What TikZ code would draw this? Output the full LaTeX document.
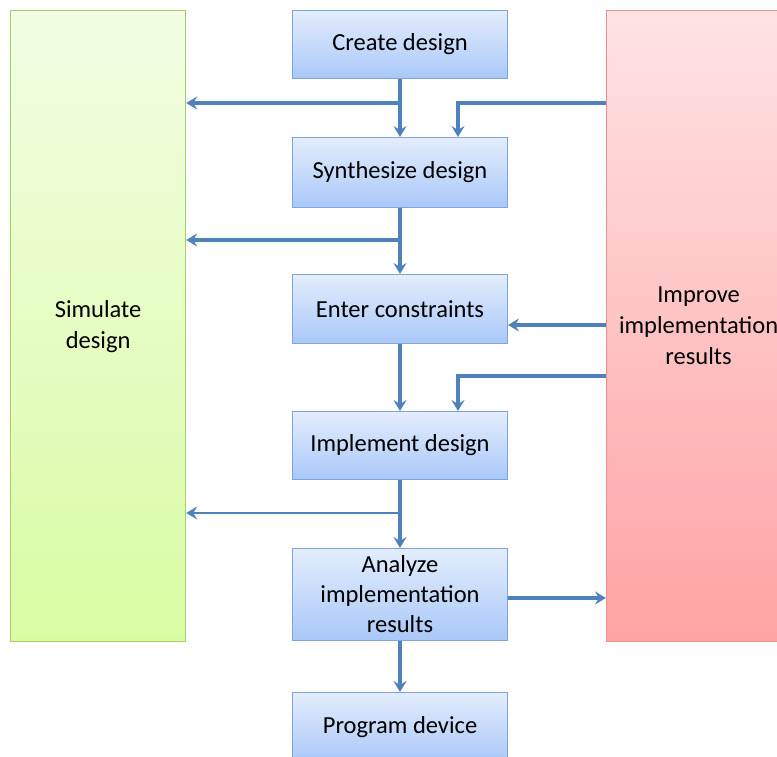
\documentclass[tikz,border=0pt]{standalone}
\usepackage{fontspec}
\setmainfont{Carlito}
\usetikzlibrary{arrows.meta}
\definecolor{flow}{HTML}{4F81BD}
\definecolor{stepedge}{HTML}{7FA6DA}
\definecolor{steptop}{HTML}{E3EDFD}
\definecolor{stepbot}{HTML}{A9C8F8}
\definecolor{simedge}{HTML}{A6CF6C}
\definecolor{simtop}{HTML}{F2FDE3}
\definecolor{simbot}{HTML}{D9FCA3}
\definecolor{impedge}{HTML}{EE8E8E}
\definecolor{imptop}{HTML}{FFE3E3}
\definecolor{impbot}{HTML}{FFA3A3}
\tikzset{
  stepbox/.style={draw=stepedge, line width=1pt, top color=steptop, bottom color=stepbot,
    minimum width=215pt, anchor=north west, align=center, inner sep=0pt,
    font=\fontsize{24.5}{30}\selectfont},
  sidebox/.style={line width=1.2pt, anchor=north west, align=center, inner sep=0pt,
    font=\fontsize{24.5}{31}\selectfont},
  conn/.style={draw=flow, line width=3.2pt,
    -{Stealth[length=11pt, width=13pt, inset=4pt]}},
  thinconn/.style={conn, line width=2.4pt}
}
\begin{document}
\begin{tikzpicture}[x=1pt, y=-1pt]
\useasboundingbox (0,0) rectangle (777,757);
\clip (0,0) rectangle (777,757);

% side panels
\node[sidebox, draw=simedge, top color=simtop, bottom color=simbot,
  minimum width=175pt, minimum height=631pt] (sim) at (10,10) {Simulate\\design};
\node[sidebox, draw=impedge, top color=imptop, bottom color=impbot,
  minimum width=184pt, minimum height=631pt] (imp) at (606,10)
  {Improve\\implementation\\results};

% main flow steps
\node[stepbox, minimum height=68pt] (create) at (292,10) {Create design};
\node[stepbox, minimum height=70pt] (synth) at (292,137) {Synthesize design};
\node[stepbox, minimum height=69pt] (enter) at (292,274) {Enter constraints};
\node[stepbox, minimum height=68pt] (impl) at (292,411) {Implement design};
\node[stepbox, minimum height=92pt] (anal) at (292,548) {Analyze\\implementation\\results};
\node[stepbox, minimum height=70pt] (prog) at (292,692) {Program device};

% junction points
\coordinate (j1) at (400,103);
\coordinate (j2) at (400,240);
\coordinate (j3) at (400,513);
\coordinate (r1) at (458,103);
\coordinate (r2) at (458,376);

% downward flow
\draw[conn] (create.south) -- (synth.north);
\draw[conn] (synth.south) -- (enter.north);
\draw[conn] (enter.south) -- (impl.north);
\draw[conn] (impl.south) -- (anal.north);
\draw[conn] (anal.south) -- (prog.north);

% branches to simulation
\draw[conn] (j1) -- (sim.east |- j1);
\draw[conn] (j2) -- (sim.east |- j2);
\draw[thinconn] (j3) -- (sim.east |- j3);

% feedback from improvement
\draw[conn] (imp.west |- r1) -- (r1) -- (r1 |- synth.north);
\draw[conn] (imp.west |- 0,325) -- (enter.east |- 0,325);
\draw[conn] (imp.west |- r2) -- (r2) -- (r2 |- impl.north);

% analysis feeds improvement
\draw[conn] (anal.east |- 0,598) -- (imp.west |- 0,598);
\end{tikzpicture}
\end{document}
